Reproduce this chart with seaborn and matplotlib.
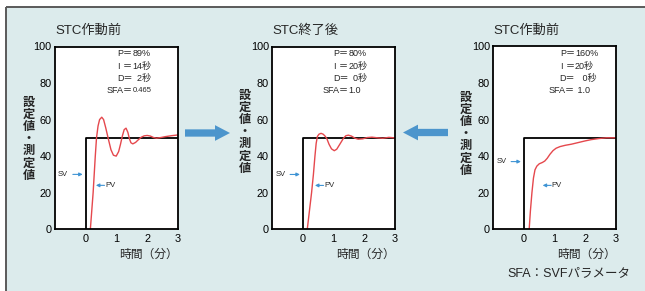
import numpy as np
import pandas as pd
import matplotlib
matplotlib.use('Agg')
import matplotlib.pyplot as plt
from matplotlib.patches import FancyArrow, Rectangle
import seaborn as sns

# --- data ---
titles = ['STC作動前', 'STC終了後', 'STC作動前']
sv_x = [0, 0, 3]
sv_y = [0, 50, 50]

pv1_x = [0.15, 0.24, 0.31, 0.35, 0.40, 0.45, 0.52, 0.58, 0.65, 0.74, 0.82, 0.90, 0.99,
         1.07, 1.13, 1.19, 1.25, 1.31, 1.37, 1.42, 1.47, 1.53, 1.62, 1.70, 1.80, 1.90,
         2.00, 2.10, 2.20, 2.30, 2.45, 2.60, 2.80, 3.00]
pv1_y = [0, 20, 40, 50, 56.5, 60, 61.3, 60, 55.5, 49, 43.5, 40.5, 40,
         42.5, 46.5, 51, 54.5, 55.3, 53, 49.5, 47.3, 46.7, 47.5, 48.8, 50.3, 51.1,
         51.3, 51, 50.2, 49.8, 50.2, 50.7, 51.2, 51.6]

pv2_x = [0.14, 0.21, 0.28, 0.34, 0.39, 0.43, 0.47, 0.52, 0.59, 0.66, 0.72, 0.78, 0.85,
         0.93, 1.02, 1.10, 1.20, 1.32, 1.40, 1.48, 1.58, 1.70, 1.80, 1.95, 2.10, 2.25,
         2.45, 2.60, 2.80, 3.00]
pv2_y = [0, 10, 20, 30, 40, 47, 50.8, 52, 52.5, 52, 51, 49.5, 46.5,
         44, 43, 43.8, 46.5, 49.8, 51.2, 51.5, 51, 49.8, 49.3, 49.5, 50.2, 50.4,
         50, 49.8, 50.3, 50]

pv3_x = [0.17, 0.21, 0.26, 0.31, 0.36, 0.42, 0.50, 0.60, 0.68, 0.76, 0.85, 0.95, 1.05,
         1.18, 1.35, 1.55, 1.80, 2.00, 2.20, 2.45, 2.70, 3.00]
pv3_y = [0, 10, 20, 28, 32.5, 34.5, 35.8, 36.5, 37.3, 38.8, 41, 43, 44.3,
         45.2, 45.9, 46.5, 47.5, 48.3, 49, 49.6, 50, 50]

params = [
    [('P＝', '89%'), ('I ＝', '14秒'), ('D＝', '  2秒'), ('SFA＝', '0.465')],
    [('P＝', '80%'), ('I ＝', '20秒'), ('D＝', '  0秒'), ('SFA＝', '1.0')],
    [('P＝', '160%'), ('I ＝', '20秒'), ('D＝', '   0秒'), ('SFA＝', ' 1.0')],
]
param_x = [1.52, 1.48, 1.67]
param_y = [96, 89, 82.3, 75.7]
sv_label_y = [30, 30, 37]
pv_label_x = [0.33, 0.39, 0.61]
pv_label_y = 24

y_ticks = [0, 20, 40, 60, 80, 100]
x_ticks = [0, 1, 2, 3]
ylabel = '設定値・測定値'
xlabel = '時間（分）'
footnote = 'SFA：SVFパラメータ'

# --- style ---
sns.set_style('white')
plt.rcParams['font.family'] = ['Liberation Sans', 'Noto Sans CJK JP']
plt.rcParams['axes.unicode_minus'] = False

BG = '#dcebec'
RED = '#e5484d'
BLUE = '#3f94d4'
BIG_BLUE = '#4c95cc'

W, H = 645, 291
fig = plt.figure(figsize=(W / 100, H / 100), dpi=100, facecolor='white')

# background panel + frame, in pixel coords
bg = fig.add_axes([0, 0, 1, 1], zorder=-1)
bg.set_xlim(0, W)
bg.set_ylim(H, 0)
bg.axis('off')
bg.add_patch(Rectangle((6, 7), W - 6, H - 7, color=BG, lw=0))
bg.plot([6, W], [7, 7], color='#5a5a5a', lw=1.4, solid_capstyle='butt')
bg.plot([6, 6], [7, H], color='#5a5a5a', lw=1.4, solid_capstyle='butt')
bg.add_patch(FancyArrow(185, 133, 45, 0, width=7.3, head_width=15.7, head_length=15,
                        length_includes_head=True, color=BIG_BLUE, lw=0))
bg.add_patch(FancyArrow(448, 132.5, -45, 0, width=7.3, head_width=15.7, head_length=15,
                        length_includes_head=True, color=BIG_BLUE, lw=0))

boxes = [(55, 178, 46.5, 229.2), (272.3, 395, 46.5, 229.3), (493.4, 615.7, 46.3, 229.3)]
ylabel_pos = [(29, 102.5), (245, 95.5), (466, 97.5)]  # centre of first character
curves = [(pv1_x, pv1_y), (pv2_x, pv2_y), (pv3_x, pv3_y)]

for i, (l, r, t, b) in enumerate(boxes):
    ax = fig.add_axes([l / W, 1 - b / H, (r - l) / W, (b - t) / H])
    ax.set_facecolor('white')
    df = pd.DataFrame({'x': curves[i][0], 'y': curves[i][1]})
    sns.lineplot(x=sv_x, y=sv_y, ax=ax, color='black', lw=1.3, sort=False, estimator=None)
    sns.lineplot(data=df, x='x', y='y', ax=ax, color=RED, lw=1.0, sort=False, estimator=None)
    ax.set_xlim(-1, 3)
    ax.set_ylim(0, 100)
    ax.set_xticks(x_ticks)
    ax.set_yticks(y_ticks)
    ax.tick_params(direction='in', length=4, width=1.2, labelsize=7.8, pad=2.5, colors='black')
    ax.tick_params(axis='x', pad=3.5)
    for s in ax.spines.values():
        s.set_color('black')
        s.set_linewidth(1.3)
    ax.set_xlabel('')
    ax.set_ylabel('')
    ax.set_title(titles[i], loc='left', fontsize=9.5, pad=9)

    # parameters
    for (lab, val), yy in zip(params[i], param_y):
        ax.text(param_x[i], yy, lab, ha='right', va='center', fontsize=6.5)
        vs = 5.5 if val == '0.465' else 6.5
        ax.text(param_x[i], yy, val, ha='left', va='center', fontsize=vs)

    # SV / PV markers
    ax.annotate('', xy=(-0.1, sv_label_y[i]), xytext=(-0.42, sv_label_y[i]),
                arrowprops=dict(arrowstyle='-|>', color=BLUE, lw=0.8, mutation_scale=5,
                                shrinkA=0, shrinkB=0))
    ax.text(-0.74, sv_label_y[i], 'SV', ha='center', va='center', fontsize=5.5)
    px = pv_label_x[i]
    ax.annotate('', xy=(px, pv_label_y), xytext=(px + 0.28, pv_label_y),
                arrowprops=dict(arrowstyle='-|>', color=BLUE, lw=0.8, mutation_scale=5,
                                shrinkA=0, shrinkB=0))
    ax.text(px + 0.3, pv_label_y, 'PV', ha='left', va='center', fontsize=5.5)

    # stacked vertical y label (one character per row) and x label
    cx, cy = ylabel_pos[i]
    for k, ch in enumerate(ylabel):
        fig.text(cx / W, 1 - (cy + k * 12.2) / H, ch, ha='center', va='center',
                 fontsize=8.8, fontweight='bold')
    fig.text(r / W, 1 - 255 / H, xlabel, ha='right', va='center', fontsize=8.5)

fig.text(630 / W, 1 - 273 / H, footnote, ha='right', va='center', fontsize=9)

fig.savefig('out.png', dpi=100, facecolor=fig.get_facecolor())
